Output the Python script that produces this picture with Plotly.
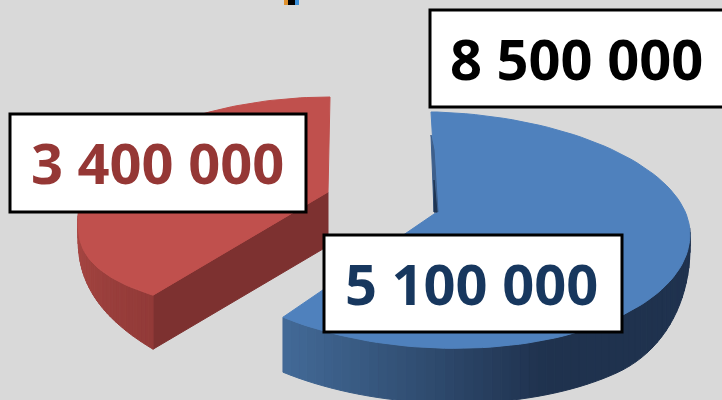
import math
import plotly.graph_objects as go

categories = ["A", "B"]
values = [5100000, 3400000]
label_total = 8500000
slice_colors = ["#4f81bd", "#c0504d"]
label_colors = ["#17375e", "#953735", "#000000"]

BG = "#d9d9d9"
total = sum(values)
blue_sweep = 360 * values[0] / total
red_sweep = 360 * values[1] / total


def arc(view, a):
    cx, cy, rx, ryu, ryd, skew, power = view
    s, c = math.sin(math.radians(a)), math.cos(math.radians(a))
    x = cx + rx * s
    y = cy - ryu * c if c > 0 else cy + ryd * abs(c) ** power
    return x, y + skew * (x - cx)


def mix(c1, c2, t):
    t = max(0, min(1, t))
    return "rgb(%d,%d,%d)" % tuple(round(a + (b - a) * t) for a, b in zip(c1, c2))


def poly(pts, color):
    xs = [p[0] for p in pts] + [pts[0][0]]
    ys = [p[1] for p in pts] + [pts[0][1]]
    return go.Scatter(x=xs, y=ys, mode="lines", fill="toself", fillcolor=color,
                      line=dict(color=color, width=1), hoverinfo="skip", showlegend=False)


fig = go.Figure()

# blue slice
bv = (437, 225, 253, 113, 123, 0.035, 1)
b_apex = (437, 212)
b_end = blue_sweep + 1.5
b_angles = [b_end * i / 100 for i in range(101)]


def b_depth(a):
    return 14 + 41 * math.sin(math.pi / 2 * min(1, max(0, a - 90) / 45))


steps = [a for a in b_angles if a >= 85]
for a0, a1 in zip(steps[:-1], steps[1:]):
    p0, p1 = arc(bv, a0), arc(bv, a1)
    col = mix((66, 105, 150), (31, 50, 78), (p1[0] - 283) / 257)
    fig.add_trace(poly([p0, p1, (p1[0], p1[1] + b_depth(a1)), (p0[0], p0[1] + b_depth(a0))], col))
fig.add_trace(poly([b_apex, (431, 112)] + [arc(bv, a) for a in b_angles], slice_colors[0]))
fig.add_trace(poly([(431, 135), (434, 150), (438, 212), (434, 212)], "#3d5f8c"))
fig.add_trace(poly([(434, 180), (437, 212), (434, 212)], "#1f3552"))

# red slice, exploded to the upper left
rv = (330, 220, 252, 123, 97, 0, 0.75)
r_apex = (328, 192)
rdepth = 54
warp = 8.6


def r_ang(i):
    # 0 at the lower corner, 100 at the top of the pie
    f = i / 100
    return blue_sweep + warp * (1 - f) + red_sweep * f


r_angles = [r_ang(i) for i in range(101)]


def r_depth(a):
    return 14 + 40 * max(0, 270 - a) / (270 - r_angles[0])


corner = arc(rv, r_angles[0])
fig.add_trace(poly([r_apex, (r_apex[0], r_apex[1] + rdepth), (corner[0], corner[1] + rdepth), corner], "#7d3130"))
side = [a for a in r_angles if a <= 275]
for a0, a1 in zip(side[:-1], side[1:]):
    p0, p1 = arc(rv, a0), arc(rv, a1)
    t = (a0 - side[0]) / (side[-1] - side[0])
    col = mix((146, 58, 56), (170, 72, 68), t)
    fig.add_trace(poly([p0, p1, (p1[0], p1[1] + r_depth(a1)), (p0[0], p0[1] + r_depth(a0))], col))
fig.add_trace(poly([r_apex] + [arc(rv, a) for a in r_angles], slice_colors[1]))

boxes = [
    (324, 235, 622, 332, values[0], label_colors[0], -2),
    (10, 114, 306, 212, values[1], label_colors[1], -1),
    (430, 10, 728, 107, label_total, label_colors[2], -3),
]
for x0, y0, x1, y1, v, col, shift in boxes:
    fig.add_shape(type="rect", x0=x0, y0=y0, x1=x1, y1=y1, fillcolor="white",
                  line=dict(color="black", width=3))
    fig.add_annotation(x=(x0 + min(x1, 732)) / 2 + shift, y=(y0 + y1) / 2 - 1, showarrow=False,
                       text=f"{v:,}".replace(",", " "),
                       font=dict(family="Open Sans", size=56, color=col, weight="bold"))

# clipped legend remnant at the top edge
for x0, x1, col in [(284, 288, "#e0922f"), (288, 295, "#000000"), (295, 299, "#3a8fd9")]:
    fig.add_shape(type="rect", x0=x0, x1=x1, y0=0, y1=5, fillcolor=col, line=dict(width=0))

fig.update_layout(
    width=722, height=400, margin=dict(l=0, r=0, t=0, b=0),
    paper_bgcolor=BG, plot_bgcolor=BG, showlegend=False,
    xaxis=dict(range=[0, 722], visible=False, fixedrange=True),
    yaxis=dict(range=[400, 0], visible=False, fixedrange=True),
)
fig.write_html("out.html", config={"displayModeBar": False},
               post_script="document.body.style.margin='0';document.body.style.overflow='hidden';")
